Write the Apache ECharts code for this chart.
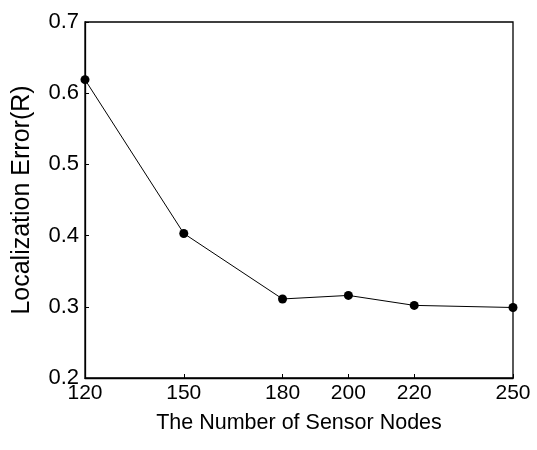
<!DOCTYPE html>
<html>
<head>
<meta charset="utf-8">
<script src="https://cdn.jsdelivr.net/npm/echarts@6/dist/echarts.min.js"></script>
<style>html,body{margin:0;padding:0;background:#fff;}#c{width:537px;height:450px;}</style>
</head>
<body>
<div id="c"></div>
<script>
var nodes = [120, 150, 180, 200, 220, 250];
var errors = [0.619, 0.403, 0.311, 0.316, 0.302, 0.299];
var xTicks = [120, 150, 180, 200, 220, 250];
var yTicks = [0.2, 0.3, 0.4, 0.5, 0.6, 0.7];

var chart = echarts.init(document.getElementById('c'), null, {renderer: 'canvas'});
var font = '"Liberation Sans", Arial, sans-serif';
chart.setOption({
  animation: false,
  backgroundColor: '#fff',
  grid: {left: 85, right: 24, top: 22, bottom: 72, containLabel: false, outerBoundsMode: 'none', show: true, borderColor: '#000', borderWidth: 1.3, backgroundColor: 'transparent'},
  xAxis: {
    type: 'value', min: 120, max: 250,
    name: 'The Number of Sensor Nodes', nameLocation: 'middle', nameGap: 34,
    nameTextStyle: {fontFamily: font, fontSize: 21.5, color: '#000'},
    axisLine: {show: true, lineStyle: {color: '#000', width: 1.3}},
    axisTick: {show: true, inside: true, length: 4, customValues: xTicks, lineStyle: {color: '#000'}},
    axisLabel: {customValues: xTicks, margin: 5, fontFamily: font, fontSize: 21, color: '#000'},
    splitLine: {show: false}
  },
  yAxis: {
    type: 'value', min: 0.2, max: 0.7, interval: 0.1,
    name: 'Localization Error(R)', nameLocation: 'middle', nameGap: 50,
    nameTextStyle: {fontFamily: font, fontSize: 25, color: '#000'},
    axisLine: {show: true, lineStyle: {color: '#000', width: 1.3}},
    axisTick: {show: true, inside: true, length: 4, customValues: yTicks, lineStyle: {color: '#000'}},
    axisLabel: {customValues: yTicks, margin: 6, fontFamily: font, fontSize: 22, color: '#000', formatter: function (v) { return v.toFixed(1); }},
    splitLine: {show: false}
  },
  series: [{
    type: 'line',
    data: nodes.map(function (n, i) { return [n, errors[i]]; }),
    symbol: 'circle', symbolSize: 9,
    lineStyle: {color: '#000', width: 1},
    itemStyle: {color: '#000'},
    clip: false
  }]
});
</script>
</body>
</html>
